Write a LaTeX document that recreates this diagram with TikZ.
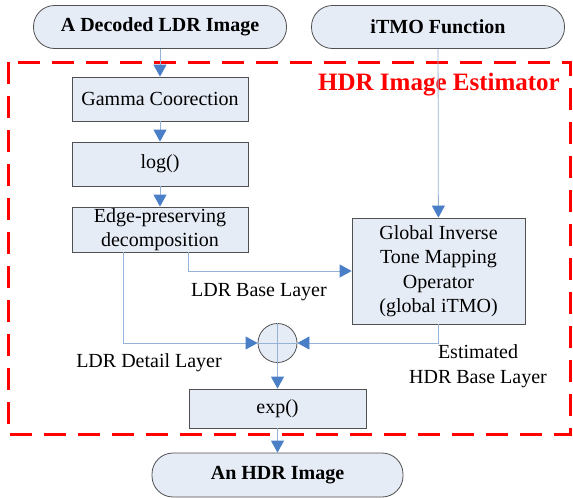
\documentclass[tikz,border=0pt]{standalone}
\usepackage{fontspec}
\setmainfont{Liberation Serif}
\usetikzlibrary{arrows.meta,calc}
\definecolor{boxfill}{RGB}{230,236,246}
\definecolor{boxline}{RGB}{80,80,80}
\definecolor{linkblue}{RGB}{149,179,215}
\definecolor{tipblue}{RGB}{74,126,198}
\definecolor{estred}{RGB}{255,0,0}
\tikzset{
  procbox/.style={draw=boxline, fill=boxfill, line width=0.8pt, inner sep=0pt,
    align=center, font=\fontsize{20}{24.5}\selectfont},
  termbox/.style={draw=boxline, fill=boxfill, line width=0.8pt, rounded corners=21pt,
    inner sep=0pt, minimum width=253pt, minimum height=43pt,
    font=\fontsize{20}{24}\selectfont\bfseries},
  link/.style={draw=linkblue, line width=0.8pt},
  flow/.style={link, -{Triangle[width=13pt,length=12pt,color=tipblue]}},
  lbl/.style={align=center, inner sep=0pt, font=\fontsize{20}{24.5}\selectfont},
}
\begin{document}
\begin{tikzpicture}[x=1pt,y=-1pt]
\useasboundingbox (0,0) rectangle (573,498);
% estimator frame
\draw[estred, line width=3pt, dash pattern=on 22pt off 12pt] (8,62) rectangle (570,434);
\node[anchor=base, text=estred, inner sep=0pt, font=\fontsize{25}{30}\selectfont\bfseries] (est) at (439,90) {HDR Image Estimator};
% nodes
\node[termbox] (ldr) at (160,27) {A Decoded LDR Image};
\node[termbox] (itmo) at (438,27) {iTMO Function};
\node[procbox, minimum width=176pt, minimum height=44pt] (gamma) at (160,99) {Gamma Coorection};
\node[procbox, minimum width=176pt, minimum height=44pt] (log) at (160,164) {log()};
\node[procbox, minimum width=176pt, minimum height=45pt] (edge) at (160,229.5) {Edge-preserving\\decomposition};
\node[procbox, minimum width=173pt, minimum height=106pt] (glob) at (438.5,271) {Global Inverse\\Tone Mapping\\Operator\\(global iTMO)};
\node[circle, draw=boxline, fill=boxfill, line width=0.8pt, minimum size=39pt, inner sep=0pt] (plus) at (277.5,343) {};
\draw[link] (plus.north) -- (plus.south);
\draw[link] (plus.west) -- (plus.east);
\node[procbox, minimum width=177pt, minimum height=39pt] (exp) at (277.5,408.5) {exp()};
\node[termbox, minimum width=251pt, minimum height=44pt] (hdr) at (277.5,475) {An HDR Image};
% connectors
\draw[flow] (ldr) -- (gamma);
\draw[flow] (gamma) -- (log);
\draw[flow] (log) -- (edge);
\draw[flow] (itmo) -- (glob);
\draw[flow] ([xshift=117pt]edge.south west) |- (glob.west);
\draw[flow] ([xshift=52pt]edge.south west) |- (plus.west);
\draw[flow] (glob.south) |- (plus.east);
\draw[flow] (plus) -- (exp);
\draw[flow] (exp) -- (hdr);
% labels
\node[lbl] (lbase) at (259,292) {LDR Base Layer};
\node[lbl] (ldet) at (149,363) {LDR Detail Layer};
\node[lbl] (hbase) at (478,366) {Estimated\\HDR Base Layer};
\end{tikzpicture}
\end{document}
